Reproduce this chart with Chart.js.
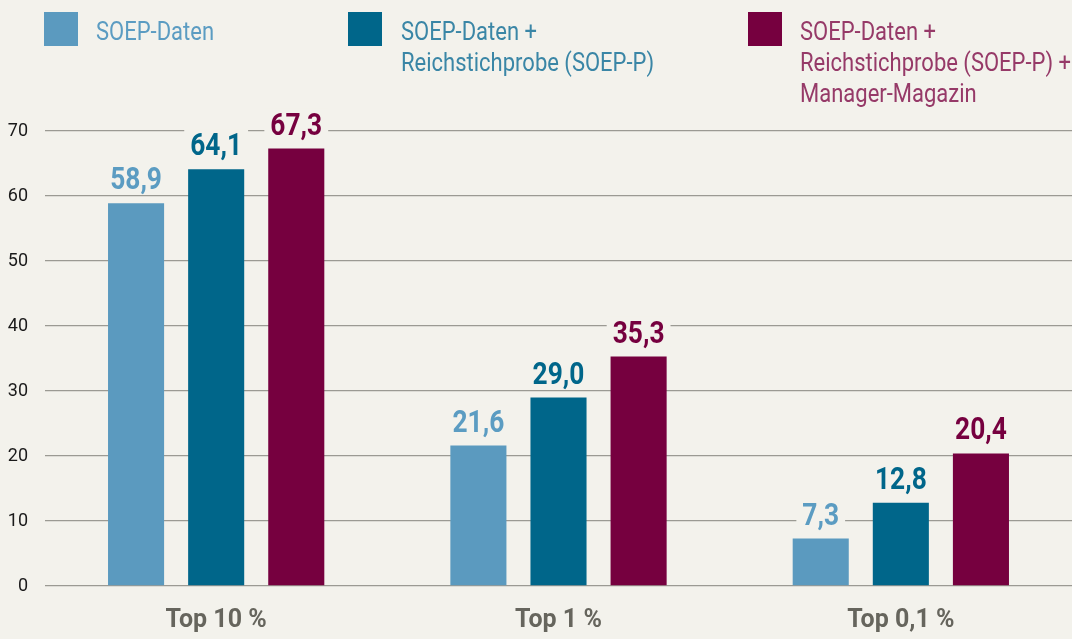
<!DOCTYPE html>
<html>
<head>
<meta charset="utf-8">
<script src="https://cdn.jsdelivr.net/npm/chart.js@4"></script>
<style>
  body { margin: 0; background: #f3f2ec; }
  #wrap { position: relative; width: 1072px; height: 639px; }
  .leg { position: absolute; font-family: Roboto, sans-serif; font-size: 25px; line-height: 31px; }
  .leg .box { position: absolute; left: 0; top: 0; width: 34px; height: 34px; }
  .leg .txt { position: absolute; top: 4px; white-space: nowrap; transform: scaleX(0.88); transform-origin: left top; }
</style>
</head>
<body>
<div id="wrap">
  <canvas id="chart" width="1072" height="639"></canvas>
  <div class="leg" style="left:44px;top:12px;">
    <div class="box" style="background:#5b9abf"></div>
    <div class="txt" style="left:52px;color:#5b9cc2">SOEP-Daten</div>
  </div>
  <div class="leg" style="left:348px;top:12px;">
    <div class="box" style="background:#00668a"></div>
    <div class="txt" style="left:53px;color:#3a86a6">SOEP-Daten +<br>Reichstichprobe (SOEP-P)</div>
  </div>
  <div class="leg" style="left:748px;top:12px;">
    <div class="box" style="background:#76003f"></div>
    <div class="txt" style="left:52px;color:#963a68">SOEP-Daten +<br>Reichstichprobe (SOEP-P) +<br>Manager-Magazin</div>
  </div>
</div>
<script>
const categories = ['Top 10 %', 'Top 1 %', 'Top 0,1 %'];
const soep = [58.9, 21.6, 7.3];
const soepP = [64.1, 29.0, 12.8];
const soepPM = [67.3, 35.3, 20.4];
const yTicks = [0, 10, 20, 30, 40, 50, 60, 70];

const font = 'Roboto, sans-serif';

// value labels above the bars, with a background patch over the grid lines
const valueLabels = {
    id: 'valueLabels',
    afterDatasetsDraw(chart) {
        const ctx = chart.ctx;
        const sx = 0.85;
        ctx.save();
        ctx.font = 'bold 31px ' + font;
        ctx.textAlign = 'center';
        ctx.textBaseline = 'alphabetic';
        chart.data.datasets.forEach((ds, i) => {
            chart.getDatasetMeta(i).data.forEach((bar, j) => {
                const txt = ds.data[j].toFixed(1).replace('.', ',');
                const w = ctx.measureText(txt).width * sx;
                const base = bar.y - 14;
                ctx.fillStyle = '#f3f2ec';
                ctx.fillRect(bar.x - w / 2 - 6, base - 26, w + 12, 30);
                ctx.save();
                ctx.translate(bar.x, base);
                ctx.scale(sx, 1);
                ctx.fillStyle = ds.labelColor;
                ctx.fillText(txt, 0, 0);
                ctx.restore();
            });
        });
        ctx.restore();
    }
};

new Chart(document.getElementById('chart'), {
    type: 'bar',
    data: {
        labels: categories,
        datasets: [
            { label: 'SOEP-Daten', data: soep, backgroundColor: '#5b9abf', labelColor: '#5b9cc2' },
            { label: 'SOEP-Daten + Reichstichprobe (SOEP-P)', data: soepP, backgroundColor: '#00668a', labelColor: '#00668a' },
            { label: 'SOEP-Daten + Reichstichprobe (SOEP-P) + Manager-Magazin', data: soepPM, backgroundColor: '#76003f', labelColor: '#76003f' }
        ]
    },
    options: {
        responsive: false,
        animation: false,
        barPercentage: 0.7,
        categoryPercentage: 0.702,
        layout: { padding: { top: 131, right: 0, bottom: 0, left: 0 } },
        plugins: {
            legend: { display: false },
            tooltip: { enabled: false }
        },
        scales: {
            x: {
                grid: { display: false },
                border: { display: false },
                ticks: {
                    color: '#66655d',
                    font: { family: font, size: 25, weight: 'bold' },
                    padding: 12
                },
                afterFit(scale) { scale.height = 53; }
            },
            y: {
                min: 0,
                max: 70,
                afterBuildTicks(scale) { scale.ticks = yTicks.map(v => ({ value: v })); },
                grid: { color: '#9b9a93', lineWidth: 1.3, drawTicks: false },
                border: { display: false },
                ticks: {
                    color: '#1a1a1a',
                    font: { family: font, size: 18 },
                    padding: 17
                },
                afterFit(scale) { scale.width = 45; }
            }
        }
    },
    plugins: [valueLabels]
});
</script>
</body>
</html>
